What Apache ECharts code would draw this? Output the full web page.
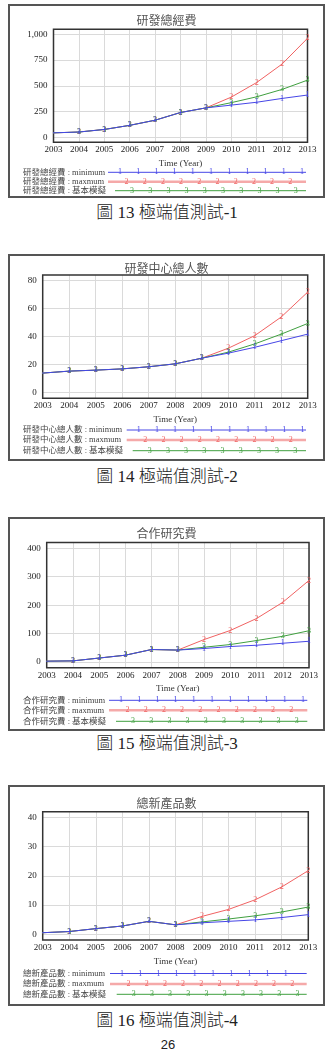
<!DOCTYPE html>
<html>
<head>
<meta charset="utf-8">
<script src="https://cdn.jsdelivr.net/npm/echarts@6/dist/echarts.min.js"></script>
<style>
  body { margin: 0; background: #fff; width: 331px; height: 1061px; position: relative; overflow: hidden; }
  .box { position: absolute; left: 8px; width: 317px; box-sizing: border-box; border: 2px solid #555; background: #fff; }
  .chart { width: 100%; height: 100%; }
  .cap { position: absolute; left: 0; width: 334px; text-align: center; font-family: 'Liberation Serif', 'Noto Sans CJK TC', serif; font-size: 17px; font-weight: 300; color: #222; line-height: 20px; }
  .page { position: absolute; left: 0; width: 336px; text-align: center; font-family: 'Liberation Sans', 'Noto Sans', sans-serif; font-size: 13px; color: #222; }
</style>
</head>
<body>
<div class="box" style="top:4px;height:194px"><div class="chart" id="c1"></div></div>
<div class="cap" style="top:203px">圖 13 極端值測試-1</div>

<div class="box" style="top:254px;height:207px"><div class="chart" id="c2"></div></div>
<div class="cap" style="top:467px">圖 14 極端值測試-2</div>

<div class="box" style="top:517px;height:214px"><div class="chart" id="c3"></div></div>
<div class="cap" style="top:734px">圖 15 極端值測試-3</div>

<div class="box" style="top:785px;height:221px"><div class="chart" id="c4"></div></div>
<div class="cap" style="top:1011px">圖 16 極端值測試-4</div>

<div class="page" style="top:1037px">26</div>

<script>
const years = ['2003', '2004', '2005', '2006', '2007', '2008', '2009', '2010', '2011', '2012', '2013'];

// 研發總經費
const fundMin  = [42, 50, 75, 115, 165, 240, 285, 312, 340, 377, 410];
const fundMax  = [42, 50, 75, 115, 165, 240, 285, 390, 532, 712, 962];
const fundBase = [42, 50, 75, 115, 165, 240, 285, 336, 393, 465, 555];
const fundTicks = [0, 250, 500, 750, 1000];

// 研發中心總人數
const staffMin  = [14.0, 15.4, 16.1, 17.0, 18.5, 20.6, 24.6, 28.2, 32.4, 37.1, 41.8];
const staffMax  = [14.0, 15.4, 16.1, 17.0, 18.5, 20.6, 24.6, 31.7, 40.7, 54.0, 71.8];
const staffBase = [14.0, 15.4, 16.1, 17.0, 18.5, 20.6, 24.6, 28.9, 34.8, 41.8, 49.4];
const staffTicks = [0, 20, 40, 60, 80];

// 合作研究費
const coopMin  = [3, 4, 14, 24, 44, 42, 47.5, 54.5, 59, 66, 73];
const coopMax  = [3, 4, 14, 24, 44, 42, 79, 111, 153, 210, 287];
const coopBase = [3, 4, 14, 24, 44, 42, 52, 61.5, 75.5, 90.5, 110];
const coopTicks = [0, 100, 200, 300, 400];

// 總新產品數
const prodMin  = [0.5, 0.9, 1.9, 2.8, 4.4, 3.2, 3.9, 4.4, 4.9, 5.7, 6.7];
const prodMax  = [0.5, 0.9, 1.9, 2.8, 4.4, 3.2, 6.1, 8.5, 11.8, 16.2, 21.8];
const prodBase = [0.5, 0.9, 1.9, 2.8, 4.4, 3.2, 4.2, 5.2, 6.3, 7.6, 9.3];
const prodTicks = [0, 10, 20, 30, 40];

const BLUE = '#4646e6', RED = '#f06262', GREEN = '#3f9f3f';
const SERIF = "'Liberation Serif', 'Noto Sans CJK TC', serif";

function build(id, cfg) {
  const chart = echarts.init(document.getElementById(id));
  const L = cfg.layout;

  // legend rows (Vensim style: line with numbered markers)
  const rows = [
    { suffix: ' : minimum', color: BLUE, stroke: BLUE, lw: 1, mark: '1', first: 12 },
    { suffix: ' : maxmum', color: RED, stroke: '#f5a9a9', lw: 2.5, mark: '2', first: 18.5 },
    { suffix: ' : 基本模擬', color: GREEN, stroke: GREEN, lw: 1, mark: '3', first: 17 }
  ];
  const graphic = [];
  rows.forEach((r, i) => {
    const y = L.legendY[i], x0 = L.lineStart[i], x1 = L.lineEnd;
    graphic.push({
      type: 'text', x: 13, y: y,
      style: { text: cfg.title + r.suffix, fontSize: 8.5, fontFamily: SERIF, fill: '#444', verticalAlign: 'middle' }
    });
    graphic.push({
      type: 'line', shape: { x1: x0, y1: y, x2: x1, y2: y },
      style: { stroke: r.stroke, lineWidth: r.lw }
    });
    for (let x = x0 + r.first; x <= x1 - 3; x += 18.2) {
      graphic.push({
        type: 'text', x: x, y: y,
        style: { text: r.mark, fontSize: 8, fontFamily: SERIF, fill: r.color, align: 'center', verticalAlign: 'middle' }
      });
    }
  });

  const line = (name, data, color, mark, z) => ({
    name: name, type: 'line', data: data, z: z,
    symbol: 'circle', symbolSize: 1,
    lineStyle: { color: color, width: 1 },
    itemStyle: { color: color },
    label: {
      show: true, position: 'inside', color: color, fontSize: 8, fontFamily: SERIF,
      formatter: p => (p.dataIndex === 0 ? '' : mark)
    }
  });

  chart.setOption({
    animation: false,
    title: {
      text: cfg.title, left: 'center', top: L.titleY - 8,
      textStyle: { fontSize: 12, fontWeight: 'normal', color: '#555', fontFamily: 'Noto Sans CJK TC' }
    },
    // z:1 so the frame sits above the grid lines
    grid: Object.assign({ show: true, z: 1, borderColor: '#333', borderWidth: 1.5 }, L.grid),
    xAxis: {
      type: 'category', data: years, boundaryGap: false,
      name: 'Time (Year)', nameLocation: 'middle', nameGap: 13,
      nameTextStyle: { fontSize: 9, fontFamily: SERIF, color: '#333' },
      axisLine: { show: false }, axisTick: { show: false },
      axisLabel: { interval: 0, margin: 3, fontSize: 9, fontFamily: SERIF, color: '#222' },
      splitLine: { show: true, lineStyle: { color: '#dadada' } }
    },
    yAxis: {
      type: 'value', min: cfg.min, max: cfg.max,
      axisLine: { show: false },
      axisTick: { show: false, customValues: cfg.ticks },
      axisLabel: { customValues: cfg.ticks, margin: 6, fontSize: 9, fontFamily: SERIF, color: '#222' },
      splitLine: { show: true, lineStyle: { color: '#dadada' } }
    },
    graphic: graphic,
    series: [
      line('maxmum', cfg.max2, RED, '2', 2),
      line('基本模擬', cfg.base, GREEN, '3', 3),
      line('minimum', cfg.min1, BLUE, '1', 4)
    ]
  });
}

build('c1', {
  title: '研發總經費', min: -50, max: 1050, ticks: fundTicks,
  min1: fundMin, max2: fundMax, base: fundBase,
  layout: {
    titleY: 11.3, grid: { left: 43.5, right: 15.5, top: 23.3, bottom: 53.7 },
    legendY: [166.3, 175.7, 184.7], lineStart: [98, 98, 105], lineEnd: 296
  }
});

build('c2', {
  title: '研發中心總人數', min: -4, max: 84, ticks: staffTicks,
  min1: staffMin, max2: staffMax, base: staffBase,
  layout: {
    titleY: 9, grid: { left: 32.7, right: 15.3, top: 19, bottom: 60.7 },
    legendY: [174, 184, 194.7], lineStart: [116.7, 116.7, 122.7], lineEnd: 296
  }
});

build('c3', {
  title: '合作研究費', min: -20, max: 420, ticks: coopTicks,
  min1: coopMin, max2: coopMax, base: coopBase,
  layout: {
    titleY: 11.3, grid: { left: 36.7, right: 14, top: 23.6, bottom: 61.3 },
    legendY: [181.3, 191.3, 202.3], lineStart: [99, 99, 106], lineEnd: 297.3
  }
});

build('c4', {
  title: '總新產品數', min: -2, max: 42, ticks: prodTicks,
  min1: prodMin, max2: prodMax, base: prodBase,
  layout: {
    titleY: 13, grid: { left: 32.7, right: 14.7, top: 24.7, bottom: 64 },
    legendY: [186.5, 197, 207.3], lineStart: [100, 100, 106.7], lineEnd: 296.7
  }
});
</script>
</body>
</html>
